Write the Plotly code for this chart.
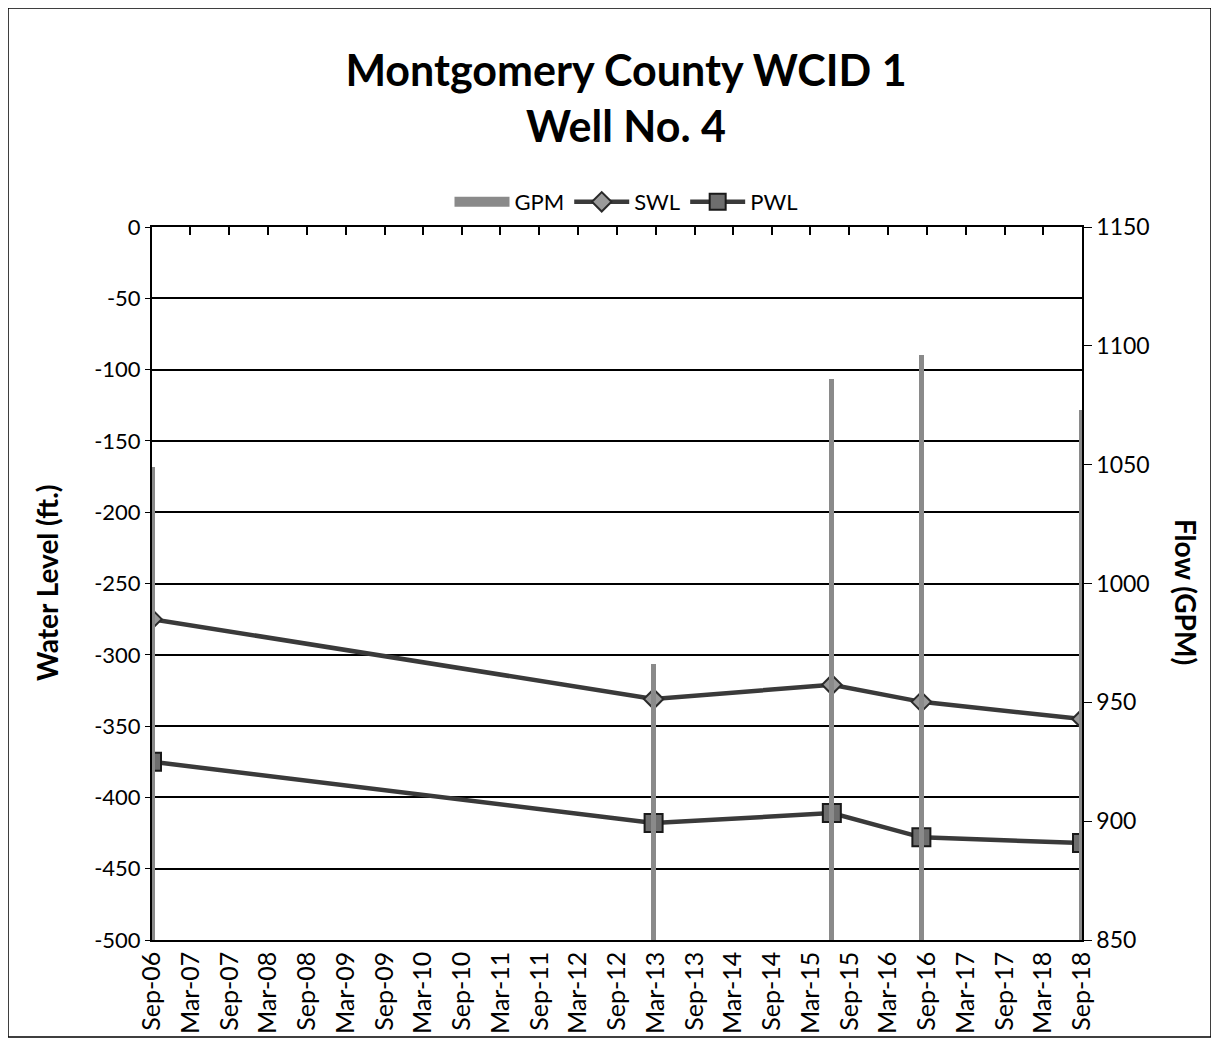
import plotly.graph_objects as go

# ---- data ----
dates = ["2006-09-01", "2013-02-20", "2015-06-10", "2016-08-05", "2018-09-01"]
gpm = [1049, 966, 1086, 1096, 1073]
swl = [-275, -331, -321, -333, -345]
pwl = [-375, -418, -411, -428, -432]

left_ticks = [0, -50, -100, -150, -200, -250, -300, -350, -400, -450, -500]
left_ticktext = ["0", "-50", "-100", "-150", "-200", "-250", "-300", "-350", "-400", "-450", "-500"]
right_ticks = [850, 900, 950, 1000, 1050, 1100, 1150]

title_lines = ["Montgomery County WCID 1", "Well No. 4"]
left_title = "Water Level (ft.)"
right_title = "Flow (GPM)"

FONT = "Lato, 'Open Sans', Arial, sans-serif"
OFF = 8  # page body margin
W, H = 1219 - OFF, 1042 - OFF
# plot area in reference pixel coords
PX0, PX1, PY0, PY1 = 152, 1082, 227, 940
L, R, T, B = PX0 - OFF, W - (PX1 - OFF), PY0 - OFF, H - (PY1 - OFF)
pw, ph = PX1 - PX0, PY1 - PY0


def px(xr):
    return (xr - PX0) / pw


def py(yr):
    return (PY1 - yr) / ph


BAR_COLOR = "#8a8a8a"

fig = go.Figure()

fig.add_trace(go.Bar(
    x=dates, y=gpm, name="GPM", yaxis="y2", showlegend=False,
    legendgroup="gpm",
    width=24 * 86400000,
    marker=dict(color=BAR_COLOR, line=dict(width=0)),
))
# legend entry for GPM drawn as a wide block
fig.add_trace(go.Scatter(
    x=[None], y=[None], name="GPM", mode="lines", legendgroup="gpm",
    line=dict(color=BAR_COLOR, width=14), hoverinfo="skip",
))
fig.add_trace(go.Scatter(
    x=dates, y=swl, name="SWL", mode="lines+markers",
    line=dict(color="#3a3a3a", width=4.5),
    marker=dict(symbol="diamond", size=15, color="#9a9a9a",
                line=dict(color="#2a2a2a", width=2)),
))
fig.add_trace(go.Scatter(
    x=dates, y=pwl, name="PWL", mode="lines+markers",
    line=dict(color="#3a3a3a", width=4.5),
    marker=dict(symbol="square", size=18, color="#6e6e6e",
                line=dict(color="#1a1a1a", width=2)),
))
# helper trace for the top tick axis
fig.add_trace(go.Scatter(
    x=[dates[0], dates[-1]], y=[None, None], xaxis="x2", showlegend=False,
    hoverinfo="skip", mode="lines",
))

fig.update_layout(
    width=W, height=H,
    margin=dict(l=L, r=R, t=T, b=B, autoexpand=False),
    paper_bgcolor="white", plot_bgcolor="white",
    font=dict(family=FONT, size=22, color="black"),
    title=dict(
        text="<b>" + "<br>".join(title_lines) + "</b>",
        x=(626 - OFF) / W, xanchor="center", xref="container",
        y=1 - (86 - OFF) / H, yanchor="middle", yref="container",
        font=dict(family=FONT, size=43, color="black"),
    ),
    legend=dict(
        orientation="h", x=px(626), xanchor="center",
        y=py(202), yanchor="middle",
        font=dict(size=22), bgcolor="rgba(0,0,0,0)",
        itemwidth=55,
    ),
    bargap=0,
    xaxis=dict(
        type="date", range=["2006-09-01", "2018-09-01"],
        tick0="2006-09-01", dtick="M6", tickformat="%b-%y",
        tickangle=-90, showgrid=False, zeroline=False,
        showline=True, linecolor="black", linewidth=1.5,
        ticks="", tickfont=dict(size=25),
    ),
    xaxis2=dict(
        type="date", overlaying="x", side="top", matches="x",
        range=["2006-09-01", "2018-09-01"],
        tick0="2006-09-01", dtick="M6",
        showticklabels=False, ticks="inside", ticklen=8,
        tickcolor="black", tickwidth=1.5, showgrid=False,
        showline=True, linecolor="black", linewidth=2, zeroline=False,
    ),
    yaxis=dict(
        range=[-500, 0], tickvals=left_ticks, ticktext=left_ticktext,
        showgrid=True, gridcolor="black",
        gridwidth=1.5, zeroline=False, showline=True, linecolor="black",
        linewidth=2, ticks="outside", ticklen=5, tickcolor="black",
        tickfont=dict(size=22),
    ),
    yaxis2=dict(
        range=[850, 1150], tickvals=right_ticks, overlaying="y", side="right",
        showgrid=False, zeroline=False, showline=True, linecolor="black",
        linewidth=1.5, ticks="outside", ticklen=8, tickcolor="black",
        tickfont=dict(size=23),
    ),
    showlegend=True,
)

fig.add_annotation(
    text="<b>" + left_title + "</b>", xref="paper", yref="paper",
    x=px(47), y=py(583), textangle=-90, showarrow=False,
    font=dict(family=FONT, size=28), xanchor="center", yanchor="middle",
)
fig.add_annotation(
    text="<b>" + right_title + "</b>", xref="paper", yref="paper",
    x=px(1186), y=py(592), textangle=90, showarrow=False,
    font=dict(family=FONT, size=28), xanchor="center", yanchor="middle",
)

# outer chart frame
fig.add_shape(
    type="rect", xref="paper", yref="paper",
    x0=px(8), x1=px(1211), y0=py(1037), y1=py(8),
    line=dict(color="black", width=1.5), layer="below",
)

fig.write_html("out.html")
